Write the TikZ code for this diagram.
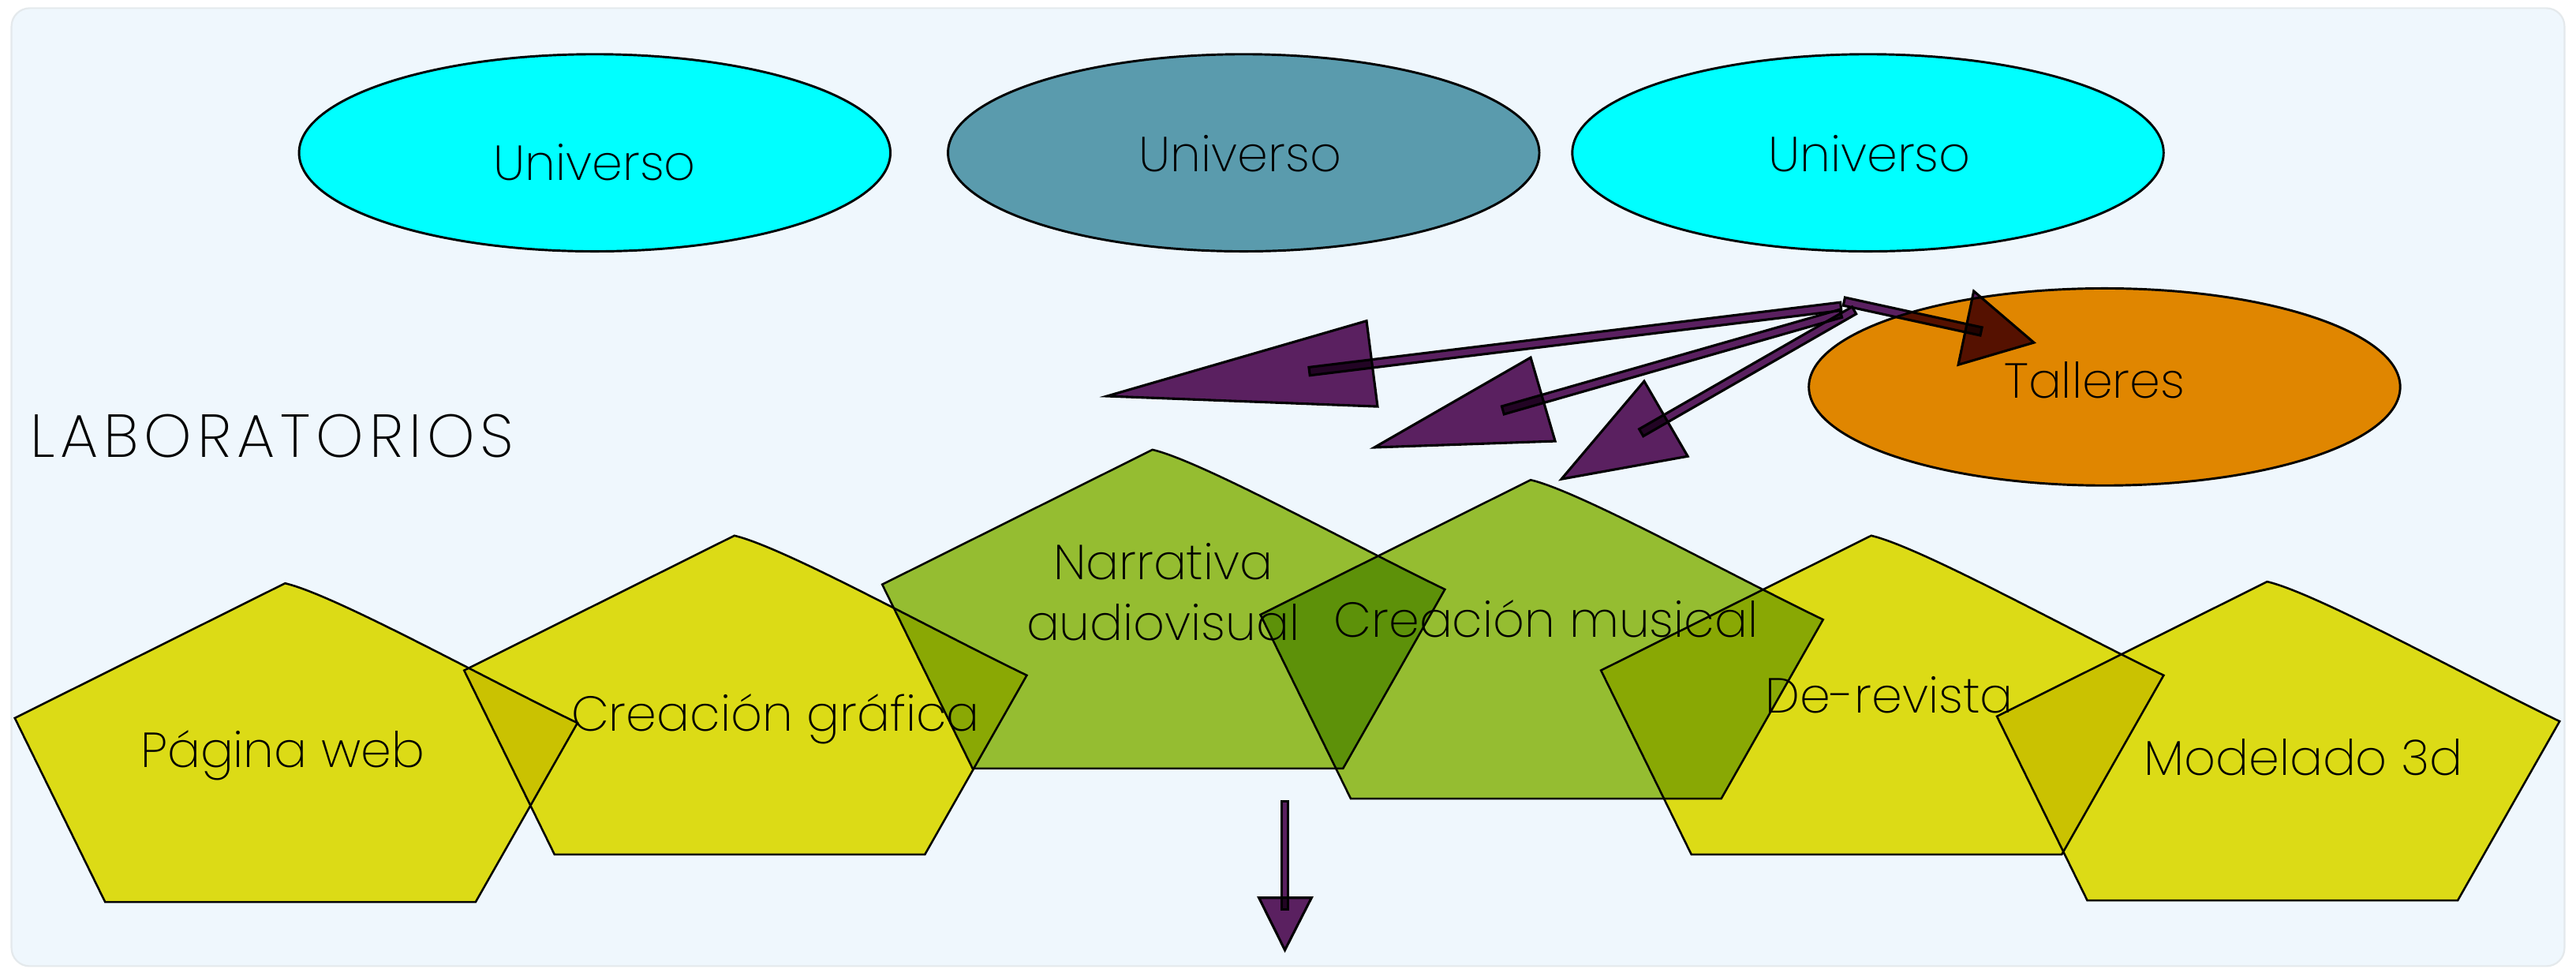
\documentclass[tikz,border=0pt]{standalone}
\usepackage{fontspec}
\setmainfont{Poppins ExtraLight}
\usetikzlibrary{calc,shapes.geometric}

\definecolor{bgc}{HTML}{EFF7FD}
\definecolor{bgline}{HTML}{E4E9EC}
\definecolor{cyanU}{HTML}{00FFFF}
\definecolor{tealU}{HTML}{5A9BAD}
\definecolor{orangeT}{HTML}{E08600}
\definecolor{yelP}{HTML}{EBE317}
\definecolor{grnP}{HTML}{A0C432}
\definecolor{purA}{HTML}{612261}

\tikzset{
  pent/.style={draw=black, line width=0.7pt, blend mode=multiply, line join=miter},
  arr/.style={draw=black, line width=0.85pt, fill=purA, blend mode=multiply, line join=miter},
  ell/.style={ellipse, draw=black, line width=0.8pt, minimum width=7.2cm, minimum height=2.4cm, inner sep=0pt},
  lbl/.style={anchor=base, inner sep=0pt, font=\fontsize{17}{20.8}\selectfont},
}

\newcommand\pentagonat[4]{%
  \coordinate (#1) at (#2,#3);
  \path[pent, fill=#4] ($(#1)+(-164.5,82)$) -- (#1)
    .. controls ($(#1)+(30,7)$) and ($(#1)+(120,57)$) .. ($(#1)+(178,85)$)
    -- ($(#1)+(116,194)$) -- ($(#1)+(-109.5,194)$) -- cycle;
}
\newcommand\shaft[3]{%
  \draw[arr] ($(#1)!#3!90:(#2)$) -- ($(#2)!#3!-90:(#1)$)
    -- ($(#2)!#3!90:(#1)$) -- ($(#1)!#3!-90:(#2)$) -- cycle;
}

\begin{document}
\begin{tikzpicture}[x=0.02cm, y=-0.02cm]
\useasboundingbox (0,0) rectangle (1568,589.7);
\draw[fill=bgc, draw=bgline, line width=0.6pt, rounded corners=0.22cm] (7,5) rectangle (1561,588);

% ellipses
\node[ell, fill=cyanU] (u1) at (362,93) {};
\node[ell, fill=tealU] (u2) at (757,93) {};
\node[ell, fill=cyanU] (u3) at (1137,93) {};
\node[ell, fill=orangeT] (tal) at (1281,235.5) {};

% pentagons
\pentagonat{p1}{173.5}{355}{yelP}
\pentagonat{p2}{447}{326}{yelP}
\pentagonat{p3}{701.5}{273.7}{grnP}
\pentagonat{p4}{931.7}{292.1}{grnP}
\pentagonat{p5}{1139}{326}{yelP}
\pentagonat{p6}{1380}{354}{yelP}

% arrows
\coordinate (s1) at (1120.5,186.5); \coordinate (e1) at (797,226);
\coordinate (h1a) at (673.8,241.1); \coordinate (h1b) at (831.8,195.3); \coordinate (h1c) at (838.5,247.4);
\draw[arr] (h1a) -- (h1b) -- (h1c) -- cycle;
\shaft{s1}{e1}{0.05cm}

\coordinate (s2) at (1120.5,190.8); \coordinate (e2) at (914.8,249.7);
\coordinate (h2a) at (836.6,272.3); \coordinate (h2b) at (931.7,217.6); \coordinate (h2c) at (946.6,268.5);
\draw[arr] (h2a) -- (h2b) -- (h2c) -- cycle;
\shaft{s2}{e2}{0.05cm}

\coordinate (s3) at (1128.6,188.9); \coordinate (e3) at (999,263.3);
\coordinate (h3a) at (950.4,291.6); \coordinate (h3b) at (1000.8,232); \coordinate (h3c) at (1027.3,277.7);
\draw[arr] (h3a) -- (h3b) -- (h3c) -- cycle;
\shaft{s3}{e3}{0.05cm}

\coordinate (s4) at (1122.5,183.5); \coordinate (e4) at (1205.9,201.7);
\coordinate (h4a) at (1238,208.5); \coordinate (h4b) at (1201.4,177.2); \coordinate (h4c) at (1192,222);
\draw[arr] (h4a) -- (h4b) -- (h4c) -- cycle;
\shaft{s4}{e4}{0.05cm}

\coordinate (s5) at (782.1,487.5); \coordinate (e5) at (782.1,553.6);
\coordinate (h5a) at (782.1,578.2); \coordinate (h5b) at (766.3,546.4); \coordinate (h5c) at (798.3,546.4);
\draw[arr] (h5a) -- (h5b) -- (h5c) -- cycle;
\shaft{s5}{e5}{0.035cm}

% texts
\node[lbl] (t1) at (362,109.6) {Universo};
\node[lbl] (t2) at (755,104.5) {Universo};
\node[lbl] (t3) at (1138,104.5) {Universo};
\node[lbl] (tt) at (1275,242.5) {Talleres};
\node[lbl, anchor=base west, font=\fontsize{21}{24}\selectfont\addfontfeatures{LetterSpace=9}] (lab) at (18,278.5) {LABORATORIOS};
\node[lbl] (q1) at (172,467) {Página web};
\node[lbl] (q2) at (472,445) {Creación gráfica};
\node[lbl, align=center] (q3) at (708,389.5) {Narrativa\\audiovisual};
\node[lbl] (q4) at (941,388) {Creación musical};
\node[lbl] (q5) at (1150,434) {De-revista};
\node[lbl] (q6) at (1402,472) {Modelado 3d};
\end{tikzpicture}
\end{document}
